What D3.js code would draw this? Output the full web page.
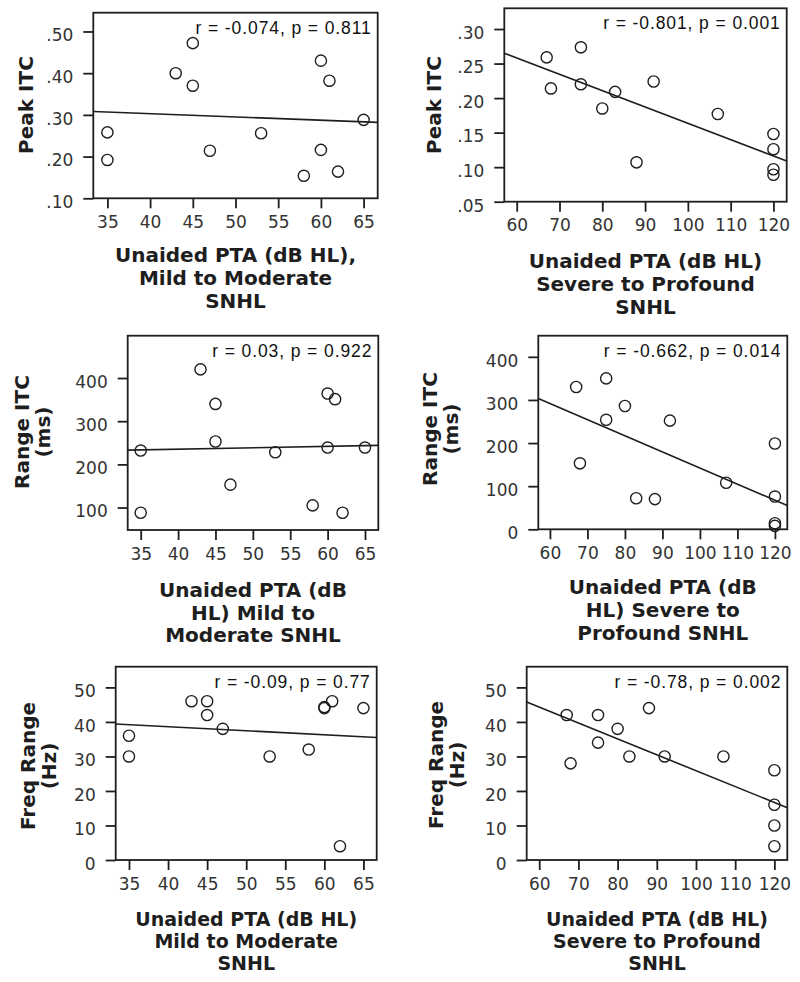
<!DOCTYPE html>
<html>
<head>
<meta charset="utf-8">
<script src="https://cdn.jsdelivr.net/npm/d3@7"></script>
<style>
  body { margin: 0; background: #fff; }
  svg { display: block; }
</style>
</head>
<body>
<script>
// PTA values (dB HL) for the two hearing-loss groups
const ptaMild   = [35, 35, 43, 45, 45, 47, 53, 58, 60, 60, 61, 62, 65];
const ptaSevere = [67, 68, 75, 75, 80, 83, 88, 92, 107, 120, 120, 120, 120];

// outcome measures, same order as the PTA lists
const peakMild   = [0.258, 0.192, 0.400, 0.472, 0.370, 0.214, 0.256, 0.154, 0.430, 0.216, 0.382, 0.164, 0.288];
const peakSevere = [0.259, 0.214, 0.2735, 0.220, 0.185, 0.209, 0.107, 0.224, 0.177, 0.148, 0.126, 0.097, 0.089];
const rangeMild   = [232, 88, 420, 340, 253, 153, 228, 105, 364, 239, 351, 88, 239];
const rangeSevere = [330, 153, 350, 254, 286, 72, 70, 252, 108, 199, 76, 14, 8];
const freqMild   = [36, 30, 46, 46, 42, 38, 30, 32, 44.3, 44, 46, 4, 44];
const freqSevere = [42, 28, 42, 34, 38, 30, 44, 30, 30, 26, 16, 10, 4];

// fitted regression lines, [x, y] at both ends of the plot area
const fitPeakMild    = [[33.35, 0.308], [66.65, 0.282]];
const fitPeakSevere  = [[57.1, 0.265], [123.1, 0.109]];
const fitRangeMild   = [[33.26, 233], [66.78, 244]];
const fitRangeSevere = [[56.9, 303.5], [123.3, 55]];
const fitFreqMild    = [[33.3, 39.4], [66.7, 35.5]];
const fitFreqSevere  = [[56.8, 45.75], [123.3, 15.15]];

// tick labels
const ticksMild   = [35, 40, 45, 50, 55, 60, 65];
const ticksSevere = [60, 70, 80, 90, 100, 110, 120];
const ticksPeakMild   = [0.10, 0.20, 0.30, 0.40, 0.50];
const ticksPeakSevere = [0.05, 0.10, 0.15, 0.20, 0.25, 0.30];
const ticksRangeMild   = [100, 200, 300, 400];
const ticksRangeSevere = [0, 100, 200, 300, 400];
const ticksFreq = [0, 10, 20, 30, 40, 50];

const stats = [
    "r = -0.074, p = 0.811", "r = -0.801, p = 0.001",
    "r = 0.03, p = 0.922",   "r = -0.662, p = 0.014",
    "r = -0.09, p = 0.77",   "r = -0.78, p = 0.002"
];

const dotFmt = d => d3.format(".2f")(d).replace(/^0/, "");
const intFmt = d3.format("d");

// layout of each panel: box = [left, top, right, bottom]
const panels = [
    {box: [93.3, 12.7, 377.7, 198.3], xDom: [33.35, 66.65], yDom: [0.10, 0.545],
     xs: ptaMild, ys: peakMild, fit: fitPeakMild, xt: ticksMild, yt: ticksPeakMild, fmt: dotFmt,
     yTitle: ["Peak ITC"], yTitleX: 33, yTitleY: 105,
     xTitle: ["Unaided PTA (dB HL),", "Mild to Moderate", "SNHL"], xTitleY: [262, 285, 308], xTitleSize: 20},
    {box: [504.3, 8.3, 786.7, 201.7], xDom: [57.1, 123.1], yDom: [0.05, 0.33],
     xs: ptaSevere, ys: peakSevere, fit: fitPeakSevere, xt: ticksSevere, yt: ticksPeakSevere, fmt: dotFmt,
     yTitle: ["Peak ITC"], yTitleX: 441, yTitleY: 105,
     xTitle: ["Unaided PTA (dB HL)", "Severe to Profound", "SNHL"], xTitleY: [268, 291, 314], xTitleSize: 20},
    {box: [127.7, 335.7, 378.3, 530], xDom: [33.26, 66.78], yDom: [48, 498],
     xs: ptaMild, ys: rangeMild, fit: fitRangeMild, xt: ticksMild, yt: ticksRangeMild, fmt: intFmt,
     yTitle: ["Range ITC", "(ms)"], yTitleX: 29, yTitleY: 432,
     xTitle: ["Unaided PTA (dB", "HL) Mild to", "Moderate SNHL"], xTitleY: [597, 620, 642], xTitleSize: 20},
    {box: [538.3, 335.7, 787.3, 529.3], xDom: [56.9, 123.3], yDom: [0, 449],
     xs: ptaSevere, ys: rangeSevere, fit: fitRangeSevere, xt: ticksSevere, yt: ticksRangeSevere, fmt: intFmt,
     yTitle: ["Range ITC", "(ms)"], yTitleX: 437, yTitleY: 429,
     xTitle: ["Unaided PTA (dB", "HL) Severe to", "Profound SNHL"], xTitleY: [594, 617, 640], xTitleSize: 20},
    {box: [115.7, 666.7, 376.7, 860], xDom: [33.3, 66.7], yDom: [0, 56],
     xs: ptaMild, ys: freqMild, fit: fitFreqMild, xt: ticksMild, yt: ticksFreq, fmt: intFmt,
     yTitle: ["Freq Range", "(Hz)"], yTitleX: 35, yTitleY: 766,
     xTitle: ["Unaided PTA (dB HL)", "Mild to Moderate", "SNHL"], xTitleY: [926, 948, 970], xTitleSize: 19},
    {box: [526.7, 666.7, 787.3, 860], xDom: [56.8, 123.3], yDom: [0, 56],
     xs: ptaSevere, ys: freqSevere, fit: fitFreqSevere, xt: ticksSevere, yt: ticksFreq, fmt: intFmt,
     yTitle: ["Freq Range", "(Hz)"], yTitleX: 443, yTitleY: 765,
     xTitle: ["Unaided PTA (dB HL)", "Severe to Profound", "SNHL"], xTitleY: [926, 948, 970], xTitleSize: 19}
];

const ink = "#1e1e1e";
const tickInk = "#333";

const svg = d3.select("body").append("svg")
    .attr("width", 800)
    .attr("height", 982);

panels.forEach(function (p, i) {
    const [x0, y0, x1, y1] = p.box;
    const x = d3.scaleLinear().domain(p.xDom).range([x0, x1]);
    const y = d3.scaleLinear().domain(p.yDom).range([y1, y0]);
    const g = svg.append("g");

    // axes
    const yAxis = g.append("g")
        .attr("transform", "translate(" + x0 + ",0)")
        .call(d3.axisLeft(y).tickValues(p.yt).tickFormat(p.fmt).tickSize(10).tickPadding(10).tickSizeOuter(0));
    const xAxis = g.append("g")
        .attr("transform", "translate(0," + y1 + ")")
        .call(d3.axisBottom(x).tickValues(p.xt).tickFormat(intFmt).tickSize(10).tickPadding(7.5).tickSizeOuter(0));

    [yAxis, xAxis].forEach(function (a) {
        a.select(".domain").remove();
        a.selectAll(".tick line").attr("stroke", ink).attr("stroke-width", 1.8);
        a.selectAll(".tick text")
            .attr("fill", tickInk)
            .style("font-family", "DejaVu Sans")
            .style("font-size", "17px");
    });
    yAxis.selectAll(".tick text").attr("dy", "0.55em");

    // plot frame
    g.append("rect")
        .attr("x", x0).attr("y", y0)
        .attr("width", x1 - x0).attr("height", y1 - y0)
        .attr("fill", "none")
        .attr("stroke", ink)
        .attr("stroke-width", 1.8);

    // fit line
    g.append("path")
        .datum(p.fit)
        .attr("d", d3.line().x(d => x(d[0])).y(d => y(d[1])))
        .attr("fill", "none")
        .attr("stroke", ink)
        .attr("stroke-width", 1.6);

    // points
    g.selectAll("circle")
        .data(p.xs.map((v, k) => [v, p.ys[k]]))
        .enter().append("circle")
        .attr("cx", d => x(d[0]))
        .attr("cy", d => y(d[1]))
        .attr("r", 5.6)
        .attr("fill", "none")
        .attr("stroke", ink)
        .attr("stroke-width", 1.4);

    // r / p note
    g.append("text")
        .attr("x", x1 - 6)
        .attr("y", y0 + 21)
        .attr("text-anchor", "end")
        .attr("fill", "#111")
        .style("font-family", "Liberation Sans")
        .style("font-size", "17.5px")
        .style("letter-spacing", "0.9px")
        .text(stats[i]);

    // y title
    const yt = g.append("text")
        .attr("transform", "translate(" + p.yTitleX + "," + p.yTitleY + ") rotate(-90)")
        .attr("text-anchor", "middle")
        .attr("fill", ink)
        .style("font-family", "DejaVu Sans")
        .style("font-weight", "bold")
        .style("font-size", "20px");
    yt.selectAll("tspan")
        .data(p.yTitle)
        .enter().append("tspan")
        .attr("x", 0)
        .attr("y", (d, k) => k * 20.5)
        .text(d => d);

    // x title
    g.append("g").selectAll("text")
        .data(p.xTitle)
        .enter().append("text")
        .attr("x", (x0 + x1) / 2)
        .attr("y", (d, k) => p.xTitleY[k])
        .attr("text-anchor", "middle")
        .attr("fill", ink)
        .style("font-family", "DejaVu Sans")
        .style("font-weight", "bold")
        .style("font-size", p.xTitleSize + "px")
        .text(d => d);
});
</script>
</body>
</html>
